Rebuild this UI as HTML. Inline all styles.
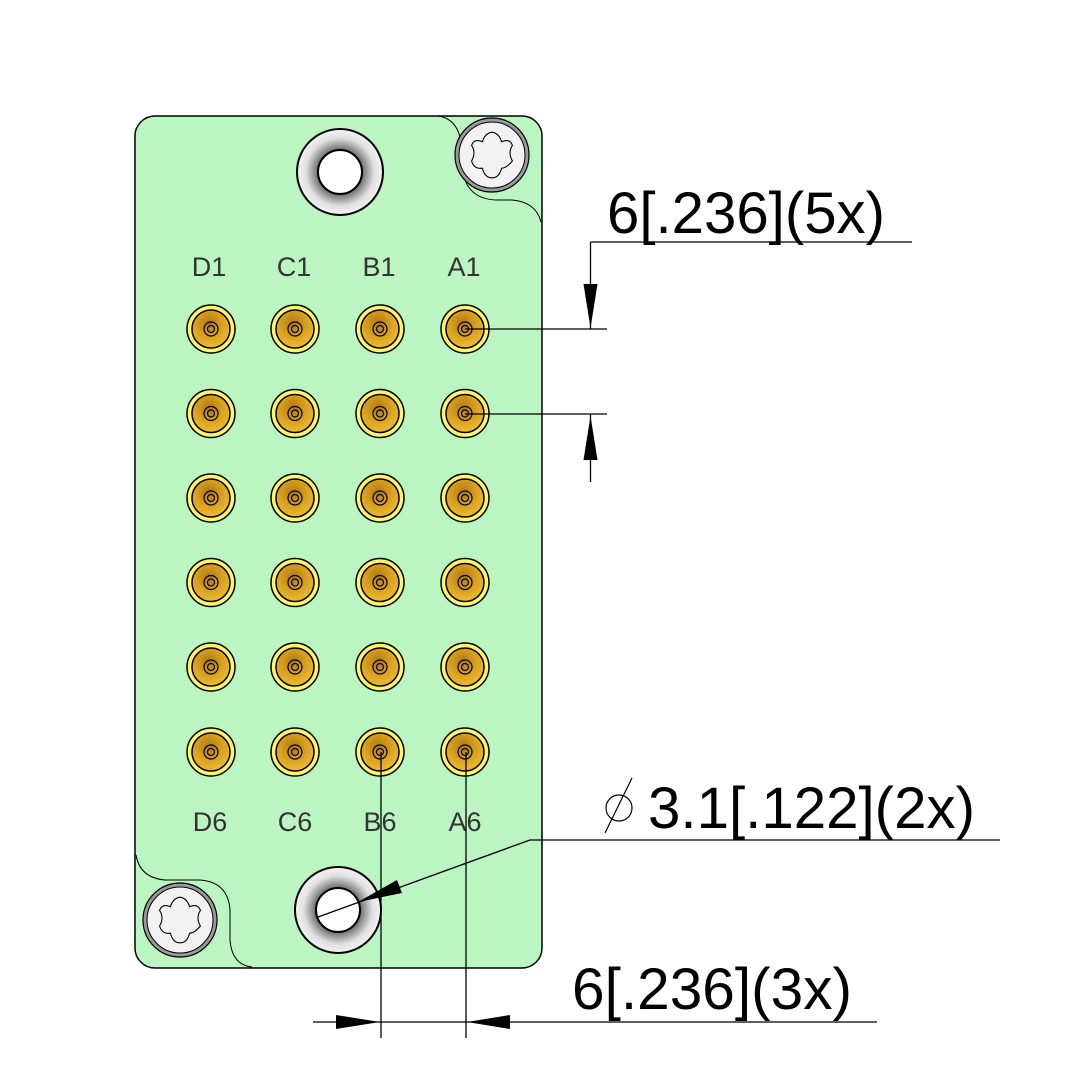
<!DOCTYPE html>
<html><head><meta charset="utf-8"><style>html,body{margin:0;padding:0;background:#fff}svg{display:block}</style></head>
<body>
<svg width="1083" height="1083" viewBox="0 0 1083 1083" xmlns="http://www.w3.org/2000/svg">
<defs>
<radialGradient id="gold" cx="0.45" cy="0.35" r="0.7">
<stop offset="0" stop-color="#b07a10"/><stop offset="0.5" stop-color="#d9a020"/><stop offset="1" stop-color="#f0c030"/>
</radialGradient>
<radialGradient id="hole" cx="0.5" cy="0.5" r="0.5">
<stop offset="0.5" stop-color="#666"/><stop offset="0.62" stop-color="#999"/><stop offset="0.8" stop-color="#e0e0e0"/><stop offset="1" stop-color="#f4f4f4"/>
</radialGradient>
<g id="c">
<circle r="24" fill="#fff46a" stroke="#000" stroke-width="1.5"/>
<circle r="19" fill="url(#gold)" stroke="#000" stroke-width="1.5"/>
<circle r="7" fill="none" stroke="#000" stroke-width="1.2"/>
<circle r="3.5" fill="none" stroke="#000" stroke-width="1.2"/>
</g>
<g id="screw">
<circle r="37" fill="#9a9a9a" stroke="#000" stroke-width="1.2"/>
<circle r="33" fill="#f2f2f2" stroke="#000" stroke-width="1"/>
<path transform="scale(1.2)" d="M0,-19 Q6,-18 8,-11 Q15,-14 17,-8 Q13,-2 17,5 Q12,11 8,11 Q6,19 0,19 Q-6,19 -8,11 Q-15,12 -17,5 Q-13,-2 -17,-8 Q-15,-14 -8,-11 Q-6,-18 0,-19Z" fill="none" stroke="#000" stroke-width="0.9"/>
</g>
<g id="mh">
<circle r="43" fill="url(#hole)" stroke="#000" stroke-width="2"/>
<circle r="22" fill="#fff" stroke="#000" stroke-width="2"/>
</g>
</defs>
<rect x="135" y="116" width="407" height="852" rx="20" fill="#bbf5c1" stroke="#000" stroke-width="1.5"/>
<path d="M437,116 Q460,118 462,150 L462,168 Q466,200 498,200 L512,200 Q536,202 541,222" fill="none" stroke="#000" stroke-width="1"/>
<path d="M136,855 Q140,878 165,880 L200,880 Q228,882 230,910 L230,940 Q232,965 252,967" fill="none" stroke="#000" stroke-width="1"/>
<use href="#mh" x="340" y="172"/>
<use href="#mh" x="338" y="910"/>
<use href="#screw" x="492" y="155"/>
<use href="#screw" x="180" y="920"/>
<g font-family="Liberation Sans, sans-serif" font-size="27" fill="#333" text-anchor="middle">
<text x="209" y="276">D1</text><text x="294" y="276">C1</text><text x="379" y="276">B1</text><text x="464" y="276">A1</text>
<text x="210" y="831">D6</text><text x="295" y="831">C6</text><text x="380" y="831">B6</text><text x="465" y="831">A6</text>
</g>
<g>
<use href="#c" x="211" y="329"/><use href="#c" x="295" y="329"/><use href="#c" x="380" y="329"/><use href="#c" x="465" y="329"/>
<use href="#c" x="211" y="413.5"/><use href="#c" x="295" y="413.5"/><use href="#c" x="380" y="413.5"/><use href="#c" x="465" y="413.5"/>
<use href="#c" x="211" y="498"/><use href="#c" x="295" y="498"/><use href="#c" x="380" y="498"/><use href="#c" x="465" y="498"/>
<use href="#c" x="211" y="582.5"/><use href="#c" x="295" y="582.5"/><use href="#c" x="380" y="582.5"/><use href="#c" x="465" y="582.5"/>
<use href="#c" x="211" y="667"/><use href="#c" x="295" y="667"/><use href="#c" x="380" y="667"/><use href="#c" x="465" y="667"/>
<use href="#c" x="211" y="752"/><use href="#c" x="295" y="752"/><use href="#c" x="380" y="752"/><use href="#c" x="465" y="752"/>
</g>
<g stroke="#000" stroke-width="1.3" fill="none">
<line x1="465" y1="329" x2="607" y2="329"/>
<line x1="465" y1="414" x2="607" y2="414"/>
<line x1="590.5" y1="242" x2="912" y2="242"/>
<line x1="590.5" y1="242" x2="590.5" y2="329"/>
<line x1="590.5" y1="414" x2="590.5" y2="482"/>
<line x1="381" y1="752" x2="381" y2="1038"/>
<line x1="466" y1="752" x2="466" y2="1038"/>
<line x1="313" y1="1022" x2="877" y2="1022"/>
<polyline points="1000,840 530,840 318,917"/>
</g>
<g fill="#000">
<polygon points="583.5,284 597.5,284 590.5,328"/>
<polygon points="583.5,460 597.5,460 590.5,416"/>
<polygon points="336,1015 336,1029 380,1022"/>
<polygon points="510,1015 510,1029 467,1022"/>
<polygon points="358,902 397,880 402,893"/>
</g>
<g font-family="Liberation Sans, sans-serif" font-size="58" fill="#000">
<text x="607" y="233" textLength="278" lengthAdjust="spacingAndGlyphs">6[.236](5x)</text>
<text x="648" y="828" textLength="327" lengthAdjust="spacingAndGlyphs">3.1[.122](2x)</text>
<text x="572" y="1009" textLength="280" lengthAdjust="spacingAndGlyphs">6[.236](3x)</text>
</g>
<circle cx="619" cy="808" r="13" fill="none" stroke="#000" stroke-width="1.2"/>
<line x1="605" y1="833" x2="632" y2="778" stroke="#000" stroke-width="1.2"/>
</svg>
</body></html>
